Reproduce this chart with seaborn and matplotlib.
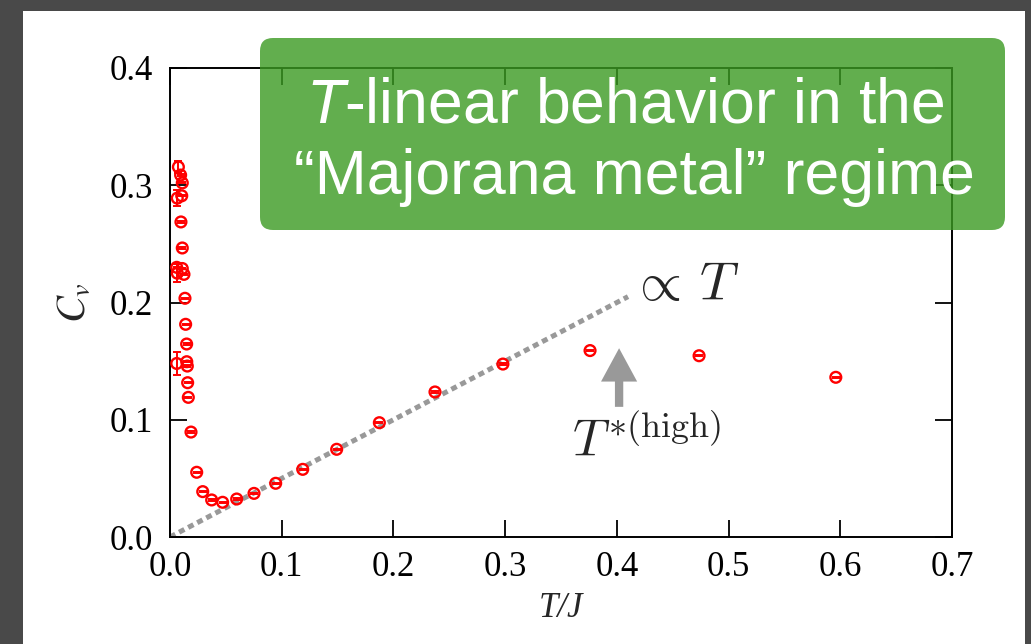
import numpy as np
import pandas as pd
import matplotlib
matplotlib.use("Agg")
import matplotlib.pyplot as plt
import seaborn as sns
from matplotlib.patches import FancyBboxPatch, Rectangle

# ---------------- data ----------------
T = [0.0075, 0.0095, 0.0110, 0.0065, 0.0105, 0.0098, 0.0110, 0.0060, 0.0065,
     0.0110, 0.0125, 0.0134, 0.0140, 0.0149, 0.0150, 0.0060, 0.0155, 0.0158,
     0.0164, 0.0188, 0.0239, 0.0293, 0.0373, 0.0471, 0.0597, 0.0752, 0.0946,
     0.1188, 0.1492, 0.1874, 0.2372, 0.2980, 0.3760, 0.4736, 0.5960]
Cv = [0.3156, 0.3087, 0.3020, 0.2890, 0.2910, 0.2687, 0.2465, 0.2300, 0.2250,
      0.2290, 0.2240, 0.2036, 0.1814, 0.1646, 0.1495, 0.1480, 0.1458, 0.1316,
      0.1191, 0.0895, 0.0552, 0.0387, 0.0316, 0.0296, 0.0324, 0.0372, 0.0458,
      0.0577, 0.0748, 0.0975, 0.1237, 0.1475, 0.1590, 0.1546, 0.1362]
Cv_err = [0.0050, 0.0005, 0.0005, 0.0070, 0.0005, 0.0005, 0.0005, 0.0005, 0.0075,
          0.0005, 0.0005, 0.0005, 0.0005, 0.0005, 0.0005, 0.0097, 0.0005, 0.0005,
          0.0005, 0.0005, 0.0005, 0.0005, 0.0005, 0.0005, 0.0005, 0.0005, 0.0005,
          0.0005, 0.0005, 0.0005, 0.0005, 0.0005, 0.0005, 0.0005, 0.0005]
fit_T = [0.0, 0.41]
fit_slope = 0.5
x_ticks = [0.0, 0.1, 0.2, 0.3, 0.4, 0.5, 0.6, 0.7]
y_ticks = [0.0, 0.1, 0.2, 0.3, 0.4]
T_star_high = 0.402
box_line1 = r"$T$-linear behavior in the"
box_line2 = "\u201cMajorana metal\u201d regime"

df = pd.DataFrame({"T": T, "Cv": Cv, "err": Cv_err})
fit_df = pd.DataFrame({"T": fit_T, "Cv": [fit_slope * t for t in fit_T]})

# ---------------- style ----------------
sns.set_theme(style="ticks")
plt.rcParams["font.family"] = ["Liberation Serif", "DejaVu Serif"]
plt.rcParams["mathtext.fontset"] = "custom"
plt.rcParams["mathtext.rm"] = "Liberation Sans"
plt.rcParams["mathtext.it"] = "Liberation Sans:italic"

W, H = 1031, 644
fig = plt.figure(figsize=(W / 100, H / 100), dpi=100, facecolor="#494949")

# background slide panel
ax_bg = fig.add_axes([0, 0, 1, 1], zorder=-10)
ax_bg.set_xlim(0, W)
ax_bg.set_ylim(H, 0)
ax_bg.axis("off")
ax_bg.add_patch(Rectangle((23, 11), 1002, 640, facecolor="white", edgecolor="none"))

# main axes
ax = fig.add_axes([170 / W, 1 - 537 / H, 782 / W, 469 / H], zorder=0)
ax.set_facecolor("white")

sns.lineplot(data=fit_df, x="T", y="Cv", ax=ax, color="#999999", lw=3.6,
             linestyle=(0, (1.2, 0.85)), zorder=2)
ax.errorbar(df["T"], df["Cv"], yerr=df["err"], fmt="none", ecolor="red",
            elinewidth=1.4, capsize=2.6, capthick=1.4, zorder=3)
sns.scatterplot(data=df, x="T", y="Cv", ax=ax, marker="o", s=60,
                facecolors="none", edgecolor="red", linewidth=1.7, zorder=4)

ax.set_xlim(0, 0.7)
ax.set_ylim(0, 0.4)
ax.set_xticks(x_ticks)
ax.set_yticks(y_ticks)
ax.set_xticklabels([f"{v:.1f}" for v in x_ticks])
ax.set_yticklabels([f"{v:.1f}" for v in y_ticks])
ax.tick_params(direction="in", length=12, width=1.3, top=True, right=True,
               labelsize=25, pad=10, colors="black")
ax.tick_params(axis="y", pad=12)
for s in ax.spines.values():
    s.set_visible(True)
    s.set_linewidth(1.4)
    s.set_color("black")

ax.set_xlabel("T/J", fontsize=25, style="italic", labelpad=6)
ax.set_ylabel(r"$C_v$", fontsize=29, labelpad=12, math_fontfamily="stix")

# annotations
ax.text(0.412, 0.2135, r"$\propto\,T$", fontsize=39, ha="left", va="center",
        math_fontfamily="cm")
ax.text(0.360, 0.080, r"$T^{*(\mathrm{high})}$", fontsize=37, ha="left",
        va="center", math_fontfamily="cm")
ax.annotate("", xy=(T_star_high, 0.161), xytext=(T_star_high, 0.111),
            arrowprops=dict(facecolor="#999999", edgecolor="none", width=6,
                            headwidth=26, headlength=24, shrink=0))

# overlay green box
ax_ov = fig.add_axes([0, 0, 1, 1], zorder=10)
ax_ov.set_xlim(0, W)
ax_ov.set_ylim(H, 0)
ax_ov.axis("off")
ax_ov.patch.set_alpha(0)
ax_ov.add_patch(FancyBboxPatch((260, 38), 745, 192,
                               boxstyle="round,pad=0,rounding_size=13",
                               facecolor=(59 / 255, 154 / 255, 34 / 255),
                               alpha=0.8, edgecolor="none"))
ax_ov.text(625, 122, box_line1, color="white", fontsize=45, ha="center",
           va="baseline", family="Liberation Sans", math_fontfamily="custom")
ax_ov.text(634, 194, box_line2, color="white", fontsize=45, ha="center",
           va="baseline", family="Liberation Sans")

fig.savefig("out.png", dpi=100, facecolor=fig.get_facecolor())
